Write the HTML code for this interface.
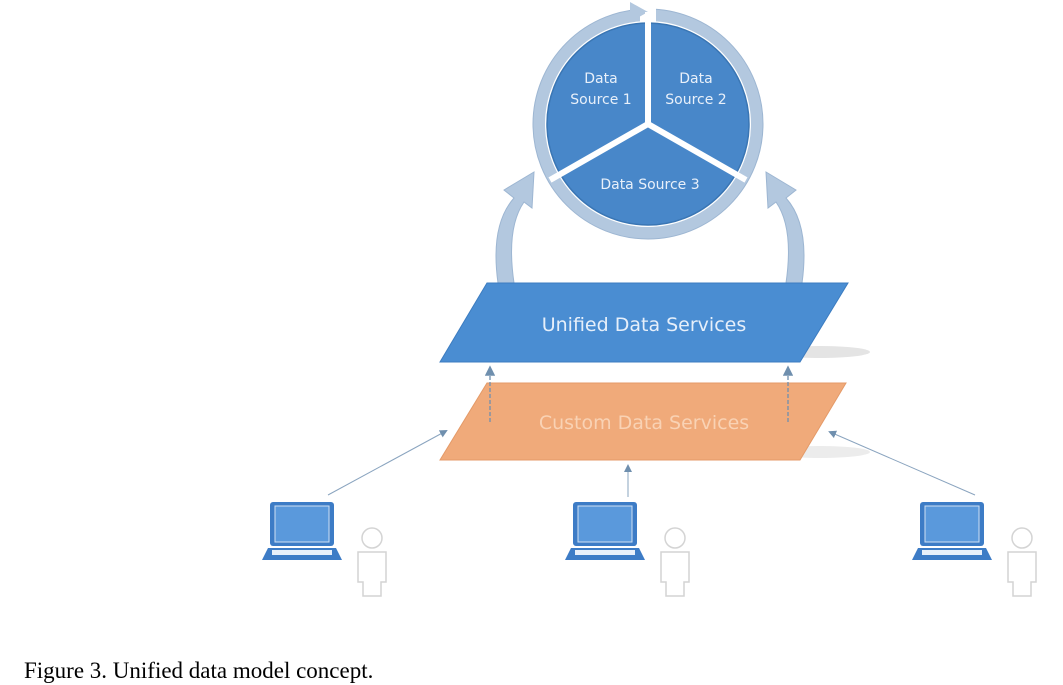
<!DOCTYPE html>
<html><head><meta charset="utf-8"><style>
html,body{margin:0;padding:0;background:#fff;}
svg{display:block}
</style></head><body>
<svg width="1063" height="685" viewBox="0 0 1063 685" xmlns="http://www.w3.org/2000/svg">
<defs>
<marker id="ah" markerWidth="8" markerHeight="8" refX="6" refY="4" orient="auto"><path d="M0,0 L8,4 L0,8 z" fill="#6f8fae"/></marker>
</defs>
<circle cx="648" cy="124" r="109" fill="none" stroke="#b3c8df" stroke-width="12"/>
<circle cx="648" cy="124" r="115" fill="none" stroke="#9db6d2" stroke-width="1"/>
<path d="M640,4 L656,4 L656,22 L640,22z" fill="#fff"/>
<polygon points="630,2 648,12 630,22" fill="#b3c8df"/>
<circle cx="648" cy="124" r="101" fill="#4887c9"/>
<circle cx="648" cy="124" r="101" fill="none" stroke="#3a76b4" stroke-width="1.5"/>
<line x1="648" y1="124" x2="648" y2="12" stroke="#fff" stroke-width="6"/>
<line x1="648" y1="124" x2="550" y2="180" stroke="#fff" stroke-width="6"/>
<line x1="648" y1="124" x2="746" y2="180" stroke="#fff" stroke-width="6"/>
<g font-family="'DejaVu Sans','Liberation Sans',sans-serif" font-size="14" fill="#e8f0fa" text-anchor="middle">
<text x="601" y="83">Data</text><text x="601" y="104">Source 1</text>
<text x="696" y="83">Data</text><text x="696" y="104">Source 2</text>
<text x="650" y="189">Data Source 3</text>
</g>
<path d="M498,283 Q490,225 514,198 L504,190 L534,172 L532,208 L524,202 Q506,228 514,283 Z" fill="#b3c8df" stroke="#9db6d2"/>
<path d="M802,283 Q810,225 786,198 L796,190 L766,172 L768,208 L776,202 Q794,228 786,283 Z" fill="#b3c8df" stroke="#9db6d2"/>
<ellipse cx="820" cy="352" rx="50" ry="6" fill="#e4e4e4"/>
<ellipse cx="820" cy="452" rx="50" ry="6" fill="#ececec"/>
<polygon points="487,283 848,283 800,362 440,362" fill="#4a8dd2" stroke="#3c7cc0"/>
<text x="644" y="331" font-family="'DejaVu Sans','Liberation Sans',sans-serif" font-size="19" fill="#e6effa" text-anchor="middle">Unified Data Services</text>
<polygon points="487,383 846,383 800,460 440,460" fill="#f0aa7a" stroke="#e49a68"/>
<text x="644" y="429" font-family="'DejaVu Sans','Liberation Sans',sans-serif" font-size="19" fill="#f9d2b4" text-anchor="middle">Custom Data Services</text>
<g stroke="#6f8fae" stroke-width="1.3" stroke-dasharray="4,2" fill="none">
<line x1="490" y1="422" x2="490" y2="368" marker-end="url(#ah)"/>
<line x1="788" y1="422" x2="788" y2="368" marker-end="url(#ah)"/>
</g>
<g stroke="#8aa4bf" stroke-width="1" fill="none">
<line x1="328" y1="495" x2="446" y2="431" marker-end="url(#ah)"/>
<line x1="628" y1="497" x2="628" y2="466" marker-end="url(#ah)"/>
<line x1="975" y1="495" x2="830" y2="432" marker-end="url(#ah)"/>
</g>
<g id="lp">
<rect x="270" y="502" width="64" height="44" rx="3" fill="#3d7cc6"/>
<rect x="275" y="506" width="54" height="36" fill="#5a99dc" stroke="#cfe0f3" stroke-width="1"/>
<path d="M262,560 L268,548 L336,548 L342,560 Z" fill="#3d7cc6"/>
<rect x="272" y="550" width="60" height="5" fill="#e8f0fa"/>
<circle cx="372" cy="538" r="10" fill="#fff" stroke="#d4d4d4" stroke-width="1.5"/>
<path d="M358,552 h28 v30 h-5 v14 h-18 v-14 h-5z" fill="#fff" stroke="#d4d4d4" stroke-width="1.5"/>
</g>
<use href="#lp" x="303" y="0"/>
<use href="#lp" x="650" y="0"/>
<text x="24" y="678" font-family="'Liberation Serif',serif" font-size="23" fill="#000">Figure 3. Unified data model concept.</text>
</svg>
</body></html>
